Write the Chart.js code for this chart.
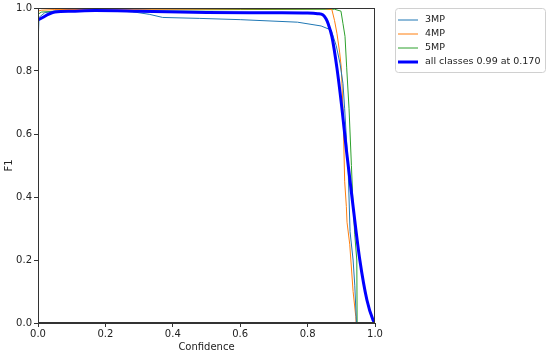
<!DOCTYPE html>
<html><head><meta charset="utf-8">
<script src="https://cdn.jsdelivr.net/npm/chart.js@4.4.1/dist/chart.umd.min.js"></script>
<style>html,body{margin:0;padding:0;background:#fff}#wrap{width:550px;height:353px}</style>
</head><body><div id="wrap"><canvas id="c" width="550" height="353"></canvas></div>
<script>
const seriesLabels = ["3MP", "4MP", "5MP", "all classes 0.99 at 0.170"];
const xTicks = [0, 0.2, 0.4, 0.6, 0.8, 1.0];
const yTicks = [0, 0.2, 0.4, 0.6, 0.8, 1.0];

const conf3 = [0, 0.003, 0.02, 0.05, 0.1, 0.2, 0.28, 0.33, 0.37, 0.48, 0.6, 0.77, 0.84, 0.87, 0.885, 0.896, 0.905, 0.91, 0.92, 0.926, 0.935, 0.94, 0.945];
const f1_3  = [0.88, 0.97, 0.985, 0.99, 0.99, 0.992, 0.988, 0.98, 0.97, 0.967, 0.963, 0.955, 0.943, 0.93, 0.88, 0.825, 0.76, 0.68, 0.5, 0.29, 0.2, 0.12, 0];

const conf4 = [0, 0.01, 0.05, 0.3, 0.6, 0.85, 0.872, 0.88, 0.887, 0.895, 0.9, 0.905, 0.91, 0.915, 0.917, 0.925, 0.935, 0.943, 0.944];
const f1_4  = [0.99, 0.993, 0.995, 0.996, 0.997, 0.998, 0.995, 0.96, 0.92, 0.86, 0.81, 0.68, 0.45, 0.37, 0.32, 0.25, 0.1, 0.02, 0];

const conf5 = [0, 0.01, 0.05, 0.3, 0.6, 0.88, 0.899, 0.905, 0.911, 0.916, 0.923, 0.93, 0.935, 0.94, 0.946, 0.947, 0.99];
const f1_5  = [0.98, 0.987, 0.99, 0.993, 0.995, 0.996, 0.99, 0.95, 0.91, 0.81, 0.68, 0.5, 0.37, 0.28, 0.2, 0, 0];

const confAll = [0, 0.05, 0.1, 0.17, 0.3, 0.5, 0.7, 0.8, 0.83, 0.846, 0.855, 0.861, 0.872, 0.887, 0.902, 0.915, 0.935, 0.955, 0.976, 0.994, 1.0];
const f1All   = [0.962, 0.987, 0.99, 0.992, 0.99, 0.986, 0.985, 0.984, 0.982, 0.978, 0.965, 0.95, 0.91, 0.81, 0.68, 0.55, 0.37, 0.2, 0.073, 0.01, 0];

const colors = ["#1f77b4", "#ff7f0e", "#2ca02c", "#0000ff"];
const widths = [1, 1, 1, 3];

function pts(xs, ys){ return xs.map((x,i)=>({x:x, y:ys[i]})); }
const allX = [conf3, conf4, conf5, confAll];
const allY = [f1_3, f1_4, f1_5, f1All];

const datasets = seriesLabels.map((lab,i)=>({
  label: lab, data: pts(allX[i], allY[i]), borderColor: colors[i], backgroundColor: colors[i],
  borderWidth: widths[i], pointRadius: 0, fill: false, order: i===3 ? 0 : 1,
  cubicInterpolationMode: i===3 ? 'monotone' : 'default', tension: 0
}));

const FONT = "'DejaVu Sans', sans-serif";

const framePlugin = {
  id: 'frame',
  afterDatasetsDraw(chart){
    const {ctx, chartArea:a} = chart;
    ctx.save();
    ctx.strokeStyle = '#333'; ctx.lineWidth = 1;
    ctx.strokeRect(Math.round(a.left)+0.5, Math.round(a.top)+0.5, Math.round(a.right-a.left)-1, Math.round(a.bottom-a.top)-1);
    ctx.restore();
  },
  afterDraw(chart){
    const {ctx} = chart;
    ctx.save();
    const bx = 395.5, by = 8.5, bw = 150, bh = 64;
    ctx.strokeStyle = '#d0d0d0'; ctx.lineWidth = 1; ctx.fillStyle = 'rgba(255,255,255,0.8)';
    ctx.beginPath();
    if (ctx.roundRect) ctx.roundRect(bx, by, bw, bh, 3); else ctx.rect(bx,by,bw,bh);
    ctx.fill(); ctx.stroke();
    ctx.font = "9.5px " + FONT; ctx.textBaseline = 'middle'; ctx.fillStyle = '#222';
    chart.data.datasets.forEach((ds,i)=>{
      const y = 20 + i*14;
      ctx.strokeStyle = ds.borderColor; ctx.lineWidth = ds.borderWidth;
      ctx.beginPath(); ctx.moveTo(398, y); ctx.lineTo(418, y); ctx.stroke();
      ctx.fillText(ds.label, 425, y);
    });
    ctx.restore();
  }
};

new Chart(document.getElementById('c'), {
  type: 'line',
  data: { datasets },
  options: {
    responsive: false, animation: false, devicePixelRatio: 1,
    layout: { padding: { left: 3, right: 175, top: 8, bottom: 0 } },
    plugins: { legend: { display: false }, tooltip: { enabled: false } },
    scales: {
      x: {
        type: 'linear', min: 0, max: 1,
        afterBuildTicks(s){ s.ticks = xTicks.map(v=>({value:v})); },
        afterFit(s){ s.height = 30; },
        ticks: { callback: v => Number(v).toFixed(1), font: {family: FONT, size: 10}, color: '#222', padding: 1, maxRotation: 0 },
        grid: { drawOnChartArea: false, drawTicks: true, tickLength: 4, color: '#333' },
        border: { display: true, color: '#333' },
        title: { display: true, text: 'Confidence', font: {family: FONT, size: 10}, color: '#222', padding: {top: 1, bottom: 0} }
      },
      y: {
        type: 'linear', min: 0, max: 1,
        afterBuildTicks(s){ s.ticks = yTicks.map(v=>({value:v})); },
        afterFit(s){ s.width = 35; },
        ticks: { callback: v => Number(v).toFixed(1), font: {family: FONT, size: 10}, color: '#222', padding: 2 },
        grid: { drawOnChartArea: false, drawTicks: true, tickLength: 4, color: '#333' },
        border: { display: true, color: '#333' },
        title: { display: true, text: 'F1', font: {family: FONT, size: 10}, color: '#222', padding: {top: 0, bottom: 0} }
      }
    }
  },
  plugins: [framePlugin]
});
</script></body></html>
